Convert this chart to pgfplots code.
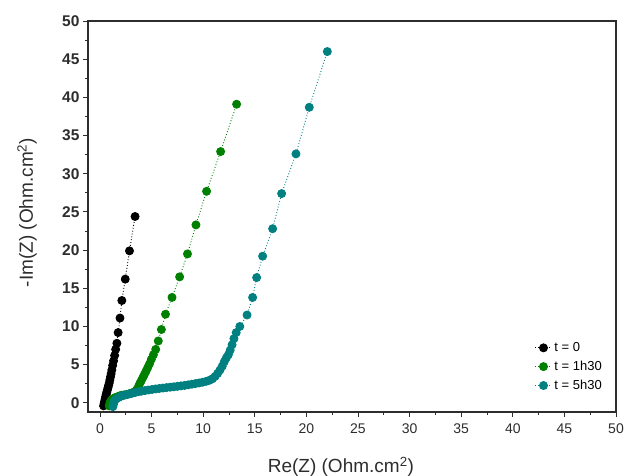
\documentclass[border=0pt]{standalone}
\usepackage{pgfplots}
\pgfplotsset{compat=1.18}
\usepackage{fontspec}
\setmainfont{Liberation Sans}
\definecolor{cblack}{RGB}{0,0,0}
\definecolor{cgreen}{RGB}{0,128,0}
\definecolor{cteal}{RGB}{0,128,128}
\definecolor{axgray}{RGB}{45,45,45}
\begin{document}
\begin{tikzpicture}
\begin{axis}[
  name=ax,
  width=528pt, height=391pt, scale only axis,
  xmin=-1.16, xmax=50, ymin=-1.2, ymax=50,
  xtick={0,5,...,50}, ytick={0,5,...,50},
  minor x tick num=1, minor y tick num=1,
  tick pos=left, tick align=outside,
  major tick length=5pt, minor tick length=3pt,
  every tick/.style={axgray, line width=0.9pt},
  axis line style={axgray, line width=1.4pt},
  /pgf/number format/assume math mode=true,
  x tick label style={font=\fontsize{14}{16}\selectfont, text=axgray, yshift=-3pt},
  y tick label style={font=\fontsize{15.5}{17}\selectfont\bfseries, text=axgray},
  xlabel={Re(Z) (Ohm.cm\textsuperscript{2})},
  ylabel={-Im(Z) (Ohm.cm\textsuperscript{2})},
  xlabel style={at={(axis description cs:0.479,0)}, yshift=-55pt, anchor=center,
    font=\fontsize{19}{21}\selectfont, text=axgray},
  ylabel style={at={(axis description cs:-0.1155,0.51)}, rotate=0, anchor=center,
    font=\fontsize{19}{21}\selectfont, text=axgray},
  legend style={draw=none, fill=none, at={(axis description cs:0.983,0.043)}, anchor=south east,
    font=\fontsize{13}{15}\selectfont, row sep=4pt},
  legend cell align=left,
  clip=false,
]
\addplot[cblack, dotted, line width=0.9pt, mark=*, mark size=4pt, mark options={solid}] coordinates {
(0.35,-0.4)(0.40,-0.1)(0.45,0.2)(0.50,0.5)(0.55,0.8)(0.60,1.1)(0.66,1.4)(0.72,1.7)
(0.78,2.0)(0.84,2.3)(0.90,2.6)(0.96,3.0)(1.02,3.4)(1.08,3.8)(1.15,4.3)(1.23,4.9)
(1.32,5.5)(1.42,6.2)(1.52,7.0)(1.64,7.8)(1.76,9.2)(1.94,11.1)(2.12,13.4)(2.45,16.2)
(2.86,19.9)(3.40,24.4)
};
\addlegendentry{t = 0}
\addplot[cgreen, dotted, line width=0.9pt, mark=*, mark size=4pt, mark options={solid}] coordinates {
(0.90,-0.4)(0.95,-0.1)(1.00,0.1)(1.10,0.3)(1.20,0.45)(1.35,0.6)(1.50,0.7)(1.70,0.8)
(1.90,0.9)(2.10,1.0)(2.35,1.05)(2.60,1.1)(2.85,1.2)(3.10,1.3)(3.35,1.45)(3.55,1.7)
(3.72,2.1)(3.85,2.5)(4.00,2.9)(4.15,3.3)(4.30,3.7)(4.45,4.1)(4.62,4.6)(4.80,5.1)
(4.98,5.7)(5.18,6.3)(5.40,7.0)(5.65,8.1)(5.95,9.6)(6.35,11.6)(6.98,13.8)(7.72,16.5)
(8.48,19.5)(9.30,23.3)(10.33,27.7)(11.69,32.9)(13.24,39.1)
};
\addlegendentry{t = 1h30}
\addplot[cteal, dotted, line width=0.9pt, mark=*, mark size=4pt, mark options={solid}] coordinates {
(1.25,-0.5)(1.30,-0.2)(1.35,0.1)(1.45,0.35)(1.60,0.55)(1.80,0.7)(2.00,0.85)(2.25,0.95)
(2.50,1.05)(2.80,1.15)(3.10,1.25)(3.40,1.35)(3.70,1.45)(4.00,1.52)(4.35,1.6)(4.70,1.68)
(5.05,1.75)(5.40,1.82)(5.75,1.88)(6.10,1.94)(6.45,2.0)(6.80,2.05)(7.15,2.1)(7.50,2.16)
(7.85,2.22)(8.20,2.28)(8.55,2.36)(8.90,2.44)(9.25,2.52)(9.60,2.6)(9.95,2.7)(10.30,2.82)
(10.60,2.95)(10.90,3.15)(11.15,3.45)(11.40,3.85)(11.63,4.3)(11.85,4.8)(12.05,5.4)
(12.25,5.9)(12.44,6.3)(12.62,6.9)(12.80,7.6)(12.98,8.4)(13.20,9.2)(13.55,10.0)
(14.25,11.5)(14.79,13.8)(15.18,16.4)(15.76,19.2)(16.73,22.8)(17.60,27.4)(18.99,32.6)
(20.28,38.7)(22.03,46.0)
};
\addlegendentry{t = 5h30}
\end{axis}
\pgfresetboundingbox
\path ([shift={(-88pt,-64pt)}]ax.south west) rectangle ([shift={(10pt,21pt)}]ax.north east);
\end{tikzpicture}
\end{document}
